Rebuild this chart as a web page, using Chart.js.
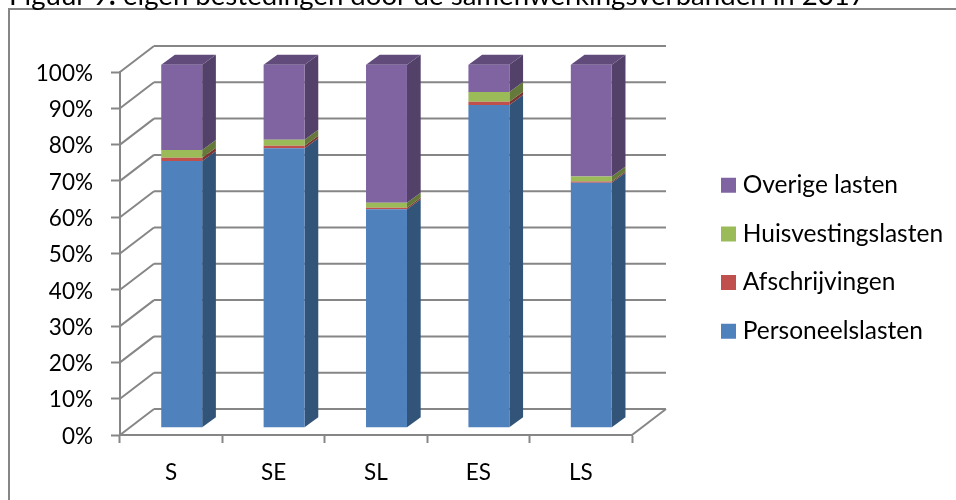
<!DOCTYPE html>
<html>
<head>
<meta charset="utf-8">
<style>
  html, body { margin: 0; padding: 0; background: #fff; }
  body { position: relative; width: 956px; height: 500px; overflow: hidden; }
  canvas { position: absolute; left: 0; top: 0; }
  #caption { position: absolute; left: 9px; top: -22px; white-space: nowrap; font: 27.6px Lato, sans-serif; color: #000; }
  #frame { position: absolute; left: 8px; top: 8px; width: 960px; height: 500px; border-left: 2px solid #868686; border-top: 2px solid #868686; }
</style>
<script src="https://cdn.jsdelivr.net/npm/chart.js@4"></script>
</head>
<body>
<div id="frame"></div>
<canvas id="chart" width="956" height="500"></canvas>
<div id="caption">Figuur 9<b>:</b> eigen bestedingen door de samenwerkingsverbanden in 2017</div>
<script>
var categories = ['S', 'SE', 'SL', 'ES', 'LS'];
var personeelslasten = [73.5, 77, 60.2, 88.9, 67.5];
var afschrijvingen = [0.9, 0.7, 0.4, 0.9, 0.3];
var huisvestingslasten = [2.1, 1.6, 1.4, 2.7, 1.4];
var overigeLasten = [23.5, 20.7, 38, 7.5, 30.8];

// colour of the front, side and top face
var blue = ['#4f81bd', '#325479'];
var red = ['#c0504d', '#7c3331'];
var green = ['#9bbb59', '#657a3a'];
var purple = ['#8064a2', '#534169', '#604b7a'];

var axisColor = '#868686';
var wall = { x: 34, y: -26 };   // back wall relative to the front axes
var shift = { x: 10.5, y: -7.3 }; // bar front relative to the front axes
var depth = { x: 13.7, y: -10 };  // bar depth

var tickFont = { family: 'Lato, sans-serif', size: 22.5 };
var legendFont = { family: 'Lato, sans-serif', size: 24.5 };
var legendPadding = 24.1;

function line(ctx, x1, y1, x2, y2) {
    ctx.beginPath();
    ctx.moveTo(x1, y1);
    ctx.lineTo(x2, y2);
    ctx.stroke();
}

function face(ctx, color, pts) {
    ctx.fillStyle = color;
    ctx.beginPath();
    ctx.moveTo(pts[0], pts[1]);
    for (var i = 2; i < pts.length; i += 2) ctx.lineTo(pts[i], pts[i + 1]);
    ctx.closePath();
    ctx.fill();
}

var pseudo3d = {
    id: 'pseudo3d',
    afterLayout: function (chart) {
        // put the legend where the reference has it, the plot keeps its size
        var lg = chart.legend;
        var h = lg.height;
        lg.left = 726.5 - legendPadding;
        lg.right = 956;
        lg.top = 149;
        lg.bottom = lg.top + h;
    },
    beforeDatasetsDraw: function (chart) {
        var ctx = chart.ctx;
        var area = chart.chartArea;
        var y = chart.scales.y;

        // back wall grid and side wall
        ctx.save();
        ctx.strokeStyle = axisColor;
        ctx.lineWidth = 2;
        y.ticks.forEach(function (t) {
            var py = y.getPixelForValue(t.value);
            line(ctx, area.left, py, area.left + wall.x, py + wall.y);
            line(ctx, area.left + wall.x, py + wall.y, area.right + wall.x, py + wall.y);
        });
        line(ctx, area.right, area.bottom, area.right + wall.x, area.bottom + wall.y);

        // side faces and top of the bars, from the library's bar elements
        chart.data.datasets.forEach(function (ds, d) {
            chart.getDatasetMeta(d).data.forEach(function (bar) {
                var r = bar.x + bar.width / 2 + shift.x;
                var top = bar.y + shift.y;
                var bottom = bar.base + shift.y;
                face(ctx, ds.sideColor, [r, top, r + depth.x, top + depth.y, r + depth.x, bottom + depth.y, r, bottom]);
                if (ds.topColor) {
                    var l = bar.x - bar.width / 2 + shift.x;
                    face(ctx, ds.topColor, [l, top, l + depth.x, top + depth.y, r + depth.x, top + depth.y, r, top]);
                }
            });
        });
        ctx.restore();

        // bars themselves stand a little behind the front axes
        ctx.save();
        ctx.translate(shift.x, shift.y);
    },
    afterDatasetsDraw: function (chart) {
        chart.ctx.restore();
    }
};

function series(label, data, colors) {
    return {
        label: label,
        data: data,
        backgroundColor: colors[0],
        sideColor: colors[1],
        topColor: colors[2],
        clip: false,
        categoryPercentage: 1,
        barPercentage: 0.4
    };
}

new Chart(document.getElementById('chart').getContext('2d'), {
    type: 'bar',
    plugins: [pseudo3d],
    data: {
        labels: categories,
        datasets: [
            series('Personeelslasten', personeelslasten, blue),
            series('Afschrijvingen', afschrijvingen, red),
            series('Huisvestingslasten', huisvestingslasten, green),
            series('Overige lasten', overigeLasten, purple)
        ]
    },
    options: {
        responsive: false,
        animation: false,
        devicePixelRatio: 1,
        layout: { padding: { top: 72, left: 0, right: 124, bottom: 0 } },
        plugins: {
            tooltip: { enabled: false },
            legend: {
                position: 'right',
                align: 'start',
                maxWidth: 200,
                reverse: true,
                labels: {
                    // small box with a thick border: 15px swatch, text close to it
                    boxWidth: 4,
                    boxHeight: 4,
                    padding: legendPadding,
                    color: '#000',
                    font: legendFont,
                    generateLabels: function (chart) {
                        return Chart.defaults.plugins.legend.labels.generateLabels(chart).map(function (item) {
                            item.strokeStyle = item.fillStyle;
                            item.lineWidth = 11;
                            return item;
                        });
                    }
                }
            }
        },
        scales: {
            x: {
                stacked: true,
                afterFit: function (s) { s.height = 65; },
                border: { color: axisColor, width: 2 },
                grid: { drawOnChartArea: false, tickColor: axisColor, tickLength: 8, tickWidth: 2 },
                ticks: { color: '#000', font: tickFont, padding: 16, maxRotation: 0 }
            },
            y: {
                stacked: true,
                min: 0,
                max: 100,
                afterFit: function (s) { s.width = 120; },
                border: { color: axisColor, width: 2 },
                grid: { drawOnChartArea: false, tickColor: axisColor, tickLength: 9, tickWidth: 2 },
                ticks: {
                    stepSize: 10,
                    color: '#000',
                    font: tickFont,
                    padding: 18,
                    labelOffset: 1.5,
                    callback: function (v) { return v + '%'; }
                }
            }
        }
    }
});
</script>
</body>
</html>
